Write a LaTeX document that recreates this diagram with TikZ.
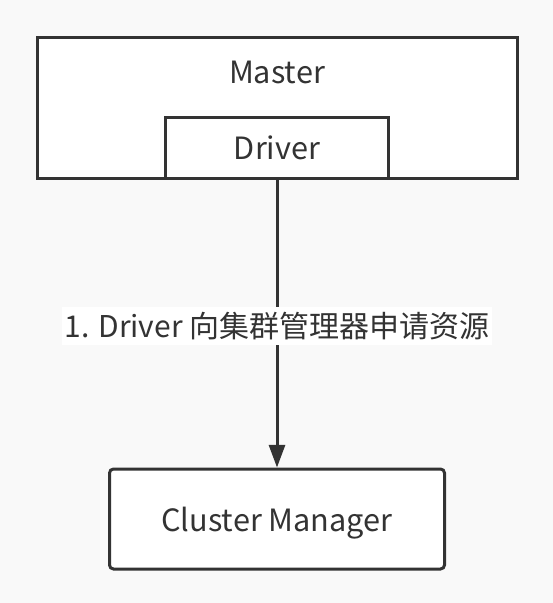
\documentclass[tikz,border=0pt]{standalone}
\usepackage{fontspec}
\newfontfamily\cjk{Noto Sans CJK SC}
\usetikzlibrary{arrows.meta, positioning}
\definecolor{linegray}{HTML}{333333}
\definecolor{canvas}{HTML}{F9F9F9}

\begin{document}
\begin{tikzpicture}[
    x=0.75pt, y=-0.75pt,
    box/.style={rectangle, draw=linegray, fill=white, line width=2.25pt, align=center, inner sep=0pt, text=linegray, font=\cjk\fontsize{23}{27}\selectfont, text depth=0pt},
    txt/.style={inner sep=0pt, text=linegray, font=\cjk\fontsize{22.5}{27}\selectfont},
    arrow/.style={-{Triangle[length=17pt, width=12pt]}, draw=linegray, line width=2.25pt}
]
    \fill[canvas] (0,0) rectangle (553,603);
    \useasboundingbox (0,0) rectangle (553,603);

    \node[box, minimum width=360pt, minimum height=105.75pt] (master) at (277,107.5) {};
    \node[txt, font=\cjk\fontsize{23}{27}\selectfont] (mastertext) at (277,72) {Master};
    \node[box, anchor=south, minimum width=167.25pt, minimum height=45.75pt] (driver) at (master.south) {Driver};
    \node[box, rounded corners=3pt, below=216pt of driver, minimum width=251.25pt, minimum height=75pt] (cm) {Cluster Manager};

    % request arrow
    \draw[arrow] (driver) -- node[txt, fill=white, inner xsep=2pt, inner ysep=4pt, yshift=-2pt] (req) {1. Driver 向集群管理器申请资源} (cm);
\end{tikzpicture}
\end{document}
